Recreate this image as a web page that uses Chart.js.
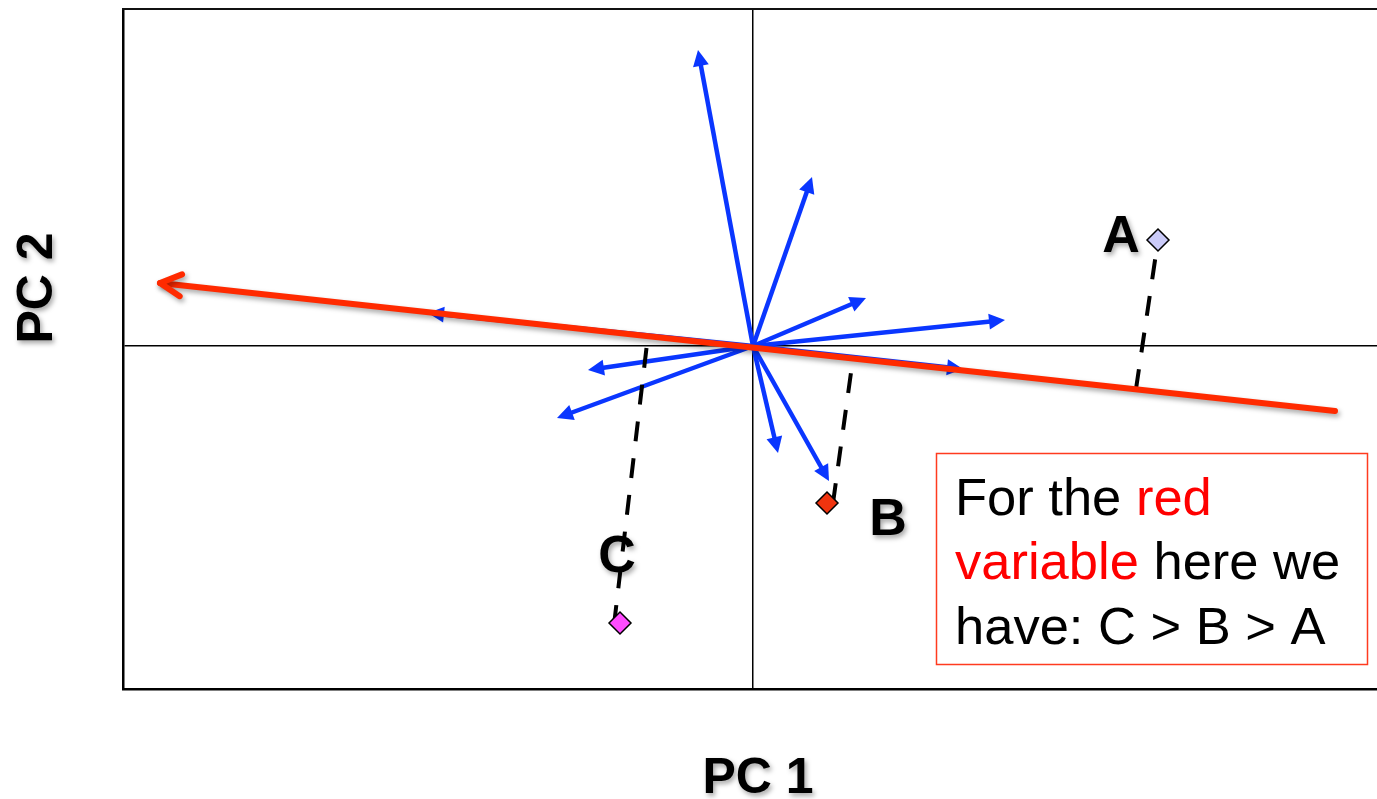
<!DOCTYPE html>
<html>
<head>
<meta charset="utf-8">
<script src="https://cdn.jsdelivr.net/npm/chart.js@4/dist/chart.umd.min.js"></script>
<style>
  html, body { margin: 0; padding: 0; background: #fff; overflow: hidden; }
  canvas { display: block; }
</style>
</head>
<body>
<canvas id="biplot" width="1377" height="799"></canvas>
<script>
// Variable loadings on (PC1, PC2), drawn as blue arrows from the origin
const loadingPC1 = [-0.55, 0.59, 1.13, 2.52, 2.10, -3.25, -1.65, -1.96, 0.25, 0.76];
const loadingPC2 = [2.96, 1.69, 0.48, 0.26, -0.23, 0.33, -0.24, -0.72, -1.07, -1.35];

// Highlighted (red) variable: a line through the origin, arrow at the tip
const redTail = [5.82, -0.65];
const redTip = [-5.93, 0.63];

// Samples
const sampleNames = ['A', 'B', 'C'];
const samplePC1 = [4.05, 0.74, -1.33];
const samplePC2 = [1.06, -1.57, -2.77];
const sampleColors = ['#cbcbf9', '#f0340f', '#ff4cff'];

// Dashed projection of each sample onto the red variable (start, end)
const dashStart = [[3.83, -0.43], [0.80, -1.57], [-1.39, -2.79]];
const dashEnd = [[4.05, 1.06], [1.00, -0.12], [-1.05, 0.11]];

// Axis extents
const pc1Range = [-6.30, 6.24];
const pc2Range = [-3.43, 3.37];

// Texts
const axisTitles = ['PC 1', 'PC 2'];
const noteLines = [
  [['For the ', '#000000'], ['red', '#ff0000']],
  [['variable', '#ff0000'], [' here we', '#000000']],
  [['have: C > B > A', '#000000']]
];

const FONT = '"Liberation Sans", Arial, Helvetica, sans-serif';
const BLUE = '#0a36ff';
const RED = '#ff2a00';

function pt(p) { return { x: p[0], y: p[1] }; }

const datasets = [];

loadingPC1.forEach((v, i) => {
  datasets.push({
    data: [{ x: 0, y: 0 }, { x: v, y: loadingPC2[i] }],
    showLine: true,
    borderColor: BLUE,
    borderWidth: 4.5,
    pointRadius: 0,
    pointHoverRadius: 0,
    order: 4,
    arrowHead: 'solid'
  });
});

dashStart.forEach((s, i) => {
  datasets.push({
    data: [pt(s), pt(dashEnd[i])],
    showLine: true,
    borderColor: '#000000',
    borderWidth: 4,
    borderDash: [20, 17],
    borderCapStyle: 'butt',
    pointRadius: 0,
    pointHoverRadius: 0,
    order: 3
  });
});

datasets.push({
  data: [pt(redTail), pt(redTip)],
  showLine: true,
  borderColor: RED,
  borderWidth: 6,
  borderCapStyle: 'round',
  pointRadius: 0,
  pointHoverRadius: 0,
  order: 2,
  arrowHead: 'open',
  dropShadow: true
});

datasets.push({
  data: samplePC1.map((v, i) => ({ x: v, y: samplePC2[i] })),
  showLine: false,
  pointStyle: 'rectRot',
  pointRadius: 11,
  pointHoverRadius: 11,
  pointBackgroundColor: sampleColors,
  pointBorderColor: '#000000',
  pointBorderWidth: 1.5,
  order: 1,
  sampleLabels: sampleNames
});

function setShadow(ctx) {
  ctx.shadowColor = 'rgba(0,0,0,0.35)';
  ctx.shadowBlur = 5;
  ctx.shadowOffsetX = 2;
  ctx.shadowOffsetY = 3;
}

const HEAD_LEN = 16, HEAD_HALF = 8;

const arrowPlugin = {
  id: 'arrowHeads',
  beforeDatasetDraw(chart, args) {
    const ds = chart.data.datasets[args.index];
    const ctx = chart.ctx;
    if (ds.arrowHead === 'solid') {
      const [p0, p1] = args.meta.data;
      const ang = Math.atan2(p1.y - p0.y, p1.x - p0.x);
      const m = ctx.getTransform();
      ctx.save();
      // keep the shaft behind the base of the head
      ctx.translate(p1.x, p1.y);
      ctx.rotate(ang);
      ctx.beginPath();
      ctx.rect(-5000, -5000, 5000 - HEAD_LEN + 1, 10000);
      ctx.clip();
      ctx.setTransform(m);
    } else if (ds.dropShadow) {
      ctx.save();
      setShadow(ctx);
    }
  },
  afterDatasetDraw(chart, args) {
    const ds = chart.data.datasets[args.index];
    const ctx = chart.ctx;
    if (!ds.arrowHead) return;
    const [p0, p1] = args.meta.data;
    const ang = Math.atan2(p1.y - p0.y, p1.x - p0.x);
    if (ds.arrowHead === 'solid') ctx.restore();
    ctx.save();
    ctx.translate(p1.x, p1.y);
    ctx.rotate(ang);
    ctx.beginPath();
    if (ds.arrowHead === 'solid') {
      ctx.moveTo(0, 0);
      ctx.lineTo(-HEAD_LEN, -HEAD_HALF);
      ctx.lineTo(-HEAD_LEN, HEAD_HALF);
      ctx.closePath();
      ctx.fillStyle = ds.borderColor;
      ctx.fill();
    } else {
      ctx.moveTo(-21, -11);
      ctx.lineTo(0, 0);
      ctx.lineTo(-21, 11);
      ctx.lineWidth = ds.borderWidth;
      ctx.lineCap = 'round';
      ctx.lineJoin = 'round';
      ctx.strokeStyle = ds.borderColor;
      ctx.stroke();
    }
    ctx.restore();
    if (ds.dropShadow) ctx.restore();
  }
};

// Offsets of the sample letters from their markers (pixels)
const labelOffsets = [[-37, -7], [61, 13], [-3, -70]];

const textPlugin = {
  id: 'texts',
  afterDatasetsDraw(chart) {
    const ctx = chart.ctx;
    const ds = chart.data.datasets.find(d => d.sampleLabels);
    const meta = chart.getDatasetMeta(chart.data.datasets.indexOf(ds));
    ctx.save();
    setShadow(ctx);
    ctx.fillStyle = '#000';
    ctx.textAlign = 'center';
    ctx.textBaseline = 'alphabetic';
    ctx.font = 'bold 52px ' + FONT;
    meta.data.forEach((el, i) => {
      const [dx, dy] = labelOffsets[i];
      ctx.fillText(ds.sampleLabels[i], el.x + dx, el.y + dy + 18.5);
    });
    ctx.restore();
  },
  afterDraw(chart) {
    const ctx = chart.ctx;
    ctx.save();
    // axis titles
    setShadow(ctx);
    ctx.fillStyle = '#000';
    ctx.font = 'bold 50px ' + FONT;
    ctx.textAlign = 'center';
    ctx.textBaseline = 'alphabetic';
    ctx.fillText(axisTitles[0], 758, 793);
    ctx.save();
    ctx.translate(34, 288);
    ctx.rotate(-Math.PI / 2);
    ctx.fillText(axisTitles[1], 0, 18);
    ctx.restore();
    ctx.restore();

    // note box
    ctx.save();
    ctx.strokeStyle = '#ff3b1f';
    ctx.lineWidth = 1.5;
    ctx.strokeRect(936.5, 453.5, 431, 211);
    ctx.font = '52.5px ' + FONT;
    ctx.textAlign = 'left';
    ctx.textBaseline = 'alphabetic';
    const baselines = [515, 579, 644];
    noteLines.forEach((line, li) => {
      let x = 955;
      line.forEach(([txt, col]) => {
        ctx.fillStyle = col;
        ctx.fillText(txt, x, baselines[li]);
        x += ctx.measureText(txt).width;
      });
    });
    ctx.restore();
  }
};

const bgPlugin = {
  id: 'bg',
  beforeDraw(chart) {
    const ctx = chart.ctx;
    ctx.save();
    ctx.fillStyle = '#ffffff';
    ctx.fillRect(0, 0, chart.width, chart.height);
    ctx.restore();
  }
};

const zeroLine = {
  drawTicks: false,
  color: c => (c.tick && c.tick.value === 0 ? '#000000' : 'rgba(0,0,0,0)'),
  lineWidth: c => (c.tick && c.tick.value === 0 ? 1.5 : 0)
};

new Chart(document.getElementById('biplot'), {
  type: 'scatter',
  data: { datasets },
  options: {
    responsive: false,
    animation: false,
    events: [],
    layout: { autoPadding: false, padding: { left: 123, top: 9, right: 0, bottom: 110 } },
    plugins: { legend: { display: false }, tooltip: { enabled: false } },
    scales: {
      x: {
        type: 'linear', position: 'bottom', min: pc1Range[0], max: pc1Range[1],
        ticks: { display: false, stepSize: 1 },
        grid: zeroLine,
        border: { display: true, color: '#000000', width: 2.5 }
      },
      y: {
        type: 'linear', position: 'left', min: pc2Range[0], max: pc2Range[1],
        ticks: { display: false, stepSize: 1 },
        grid: zeroLine,
        border: { display: true, color: '#000000', width: 2.5 }
      },
      xTop: {
        type: 'linear', axis: 'x', position: 'top', min: pc1Range[0], max: pc1Range[1],
        ticks: { display: false },
        grid: { display: false, drawTicks: false },
        border: { display: true, color: '#111111', width: 2 }
      }
    }
  },
  plugins: [bgPlugin, arrowPlugin, textPlugin]
});
</script>
</body>
</html>
